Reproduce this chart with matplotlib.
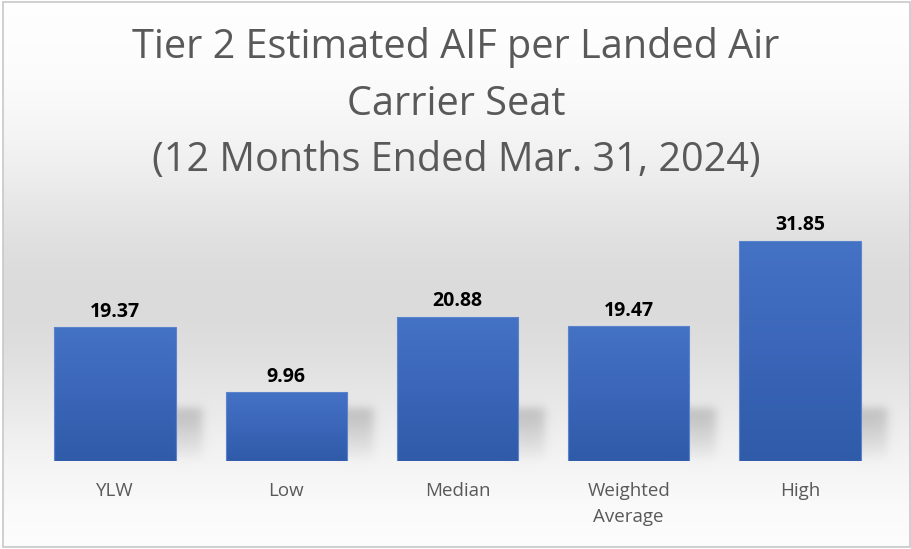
import numpy as np
import matplotlib.pyplot as plt
from matplotlib.patches import Rectangle
from matplotlib.colors import LinearSegmentedColormap

# Data
categories = ['YLW', 'Low', 'Median', 'Weighted\nAverage', 'High']
values = [19.37, 9.96, 20.88, 19.47, 31.85]
title = 'Tier 2 Estimated AIF per Landed Air\nCarrier Seat\n(12 Months Ended Mar. 31, 2024)'

W, H = 912, 549
fig = plt.figure(figsize=(W / 100, H / 100), dpi=100)
fig.patch.set_facecolor('white')

# Background axes in pixel coordinates (y downwards)
bg = fig.add_axes([0, 0, 1, 1], zorder=0)
bg.set_xlim(0, W)
bg.set_ylim(H, 0)
bg.axis('off')

# Bars axes
left, right = 29.5 / W, 885.5 / W
bottom_px, top_px = 461, 219
ax = fig.add_axes([left, (H - bottom_px) / H, right - left, (bottom_px - top_px) / H], zorder=2)
ax.patch.set_alpha(0)
x = np.arange(len(categories))
ax.set_xlim(-0.5, len(categories) - 0.5)
ax.set_ylim(0, 35)
width = 0.71

# grey band behind the bars
yy, xx = np.mgrid[0:H, 0:W].astype(float)
shade = 1.0 - 0.14 * np.exp(-((yy - 300) / 150.0) ** 2)

# soft shadow to the right of each bar
def soft(d, w=3.0):
    return 1 / (1 + np.exp(-d / w))

dark = np.zeros((H, W))
for xi in x:
    xr = ax.transData.transform((xi + width / 2, 0))[0]
    m = soft(xx - (xr - 10)) * soft((xr + 26) - xx) * soft(yy - 408) * soft(457 - yy)
    fade = np.clip(1 - (yy - 408) / 60.0, 0.25, 1)
    dark = np.maximum(dark, m * fade)
shade = shade * (1 - 0.2 * dark)
img = np.dstack([shade, shade, shade])
bg.imshow(img[2:547, 3:910], extent=(3, 910, 547, 2), aspect='auto', zorder=0,
          interpolation='bilinear')
bg.add_patch(Rectangle((3, 2), 907, 545, fill=False, edgecolor='#c8c8c8', lw=1.2, zorder=1))

cmap = LinearSegmentedColormap.from_list('bar', ['#2f5ba9', '#3b66b9', '#4472c4'])
for xi, v in zip(x, values):
    bar = Rectangle((xi - width / 2, 0), width, v, facecolor='none', edgecolor='#5b84cc', lw=0.8, zorder=3)
    ax.add_patch(bar)
    grad = np.linspace(0, 1, 100).reshape(-1, 1)
    im = ax.imshow(grad, extent=(xi - width / 2, xi + width / 2, 0, v), cmap=cmap,
                   origin='lower', aspect='auto', zorder=2)
    im.set_clip_path(bar)
    ax.text(xi, v + 0.8, f'{v:.2f}', ha='center', va='bottom', fontsize=14,
            fontweight='bold', color='black', family='Open Sans')

ax.set_xticks(x)
ax.set_xticklabels(categories, fontsize=13.5, color='#595959', family='Open Sans', linespacing=1.6)
ax.tick_params(axis='x', length=0, pad=15)
ax.set_yticks([])
for s in ax.spines.values():
    s.set_visible(False)

fig.text(0.5, 1 - 104 / H, title, ha='center', va='center', fontsize=28.5, color='#595959',
         family='Open Sans', linespacing=1.52)

fig.savefig('out.png', dpi=100)
